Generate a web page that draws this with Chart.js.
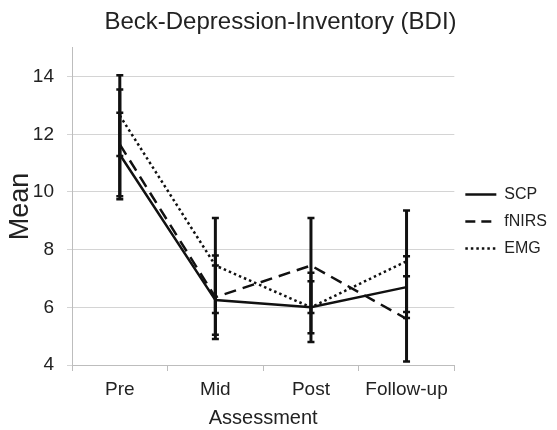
<!DOCTYPE html>
<html>
<head>
<meta charset="utf-8">
<title>Beck-Depression-Inventory (BDI)</title>
<script src="https://cdn.jsdelivr.net/npm/chart.js@4.4.1/dist/chart.umd.min.js"></script>
<style>
    html, body { margin: 0; padding: 0; background: #fff; }
    #wrap { width: 557px; height: 430px; }
</style>
</head>
<body>
<div id="wrap"><canvas id="bdiChart" width="557" height="430"></canvas></div>
<script>
// Data
const assessments = ["Pre", "Mid", "Post", "Follow-up"];
const yTicks = [4, 6, 8, 10, 12, 14];

const scpMean = [11.3, 6.25, 6.0, 6.7];
const scpErr = [1.45, 1.2, 0.9, 1.07];
const fnirsMean = [11.65, 6.35, 7.45, 5.6];
const fnirsErr = [1.9, 1.45, 1.65, 1.48];
const emgMean = [12.65, 7.45, 6.0, 7.6];
const emgErr = [1.4, 1.65, 1.2, 1.76];

const textColor = "#222";
Chart.defaults.font.family = "'Liberation Sans', Arial, sans-serif";
Chart.defaults.color = textColor;

// vertical error bars with small caps, drawn through the scales
const errorBars = {
    id: "errorBars",
    afterDatasetsDraw(chart) {
        const ctx = chart.ctx;
        const xs = chart.scales.x;
        const ys = chart.scales.y;
        ctx.save();
        ctx.strokeStyle = "#111";
        ctx.setLineDash([]);
        chart.data.datasets.forEach(function (ds) {
            ds.errors.forEach(function (e, i) {
                const px = xs.getPixelForValue(i);
                const top = ys.getPixelForValue(ds.data[i] + e);
                const bot = ys.getPixelForValue(ds.data[i] - e);
                ctx.lineWidth = 3;
                ctx.beginPath();
                ctx.moveTo(px, top);
                ctx.lineTo(px, bot);
                ctx.stroke();
                ctx.lineWidth = 2.5;
                ctx.beginPath();
                ctx.moveTo(px - 3.5, top);
                ctx.lineTo(px + 3.5, top);
                ctx.moveTo(px - 3.5, bot);
                ctx.lineTo(px + 3.5, bot);
                ctx.stroke();
            });
        });
        ctx.restore();
    }
};

const ctx = document.getElementById("bdiChart").getContext("2d");

new Chart(ctx, {
    type: "line",
    data: {
        labels: assessments,
        datasets: [
            {
                label: "SCP",
                data: scpMean,
                errors: scpErr,
                borderColor: "#111",
                borderWidth: 2.5,
                borderDash: [],
                legendDash: [],
                pointRadius: 0,
                fill: false,
            },
            {
                label: "fNIRS",
                data: fnirsMean,
                errors: fnirsErr,
                borderColor: "#111",
                borderWidth: 2.5,
                borderDash: [12, 7],
                legendDash: [10, 6],
                pointRadius: 0,
                fill: false,
            },
            {
                label: "EMG",
                data: emgMean,
                errors: emgErr,
                borderColor: "#111",
                borderWidth: 2.5,
                borderDash: [2.5, 3],
                legendDash: [2.5, 3],
                pointRadius: 0,
                fill: false,
            },
        ],
    },
    options: {
        responsive: false,
        animation: false,
        layout: { padding: { left: 4, right: 0, top: 0, bottom: 0 } },
        plugins: {
            title: {
                display: true,
                text: "Beck-Depression-Inventory (BDI)",
                color: textColor,
                font: { size: 24, weight: "normal" },
                padding: { top: 8, bottom: 11 },
            },
            legend: {
                display: true,
                position: "right",
                title: { display: true, text: "", font: { size: 10, lineHeight: 1 }, padding: { top: 3, bottom: 0 } },
                labels: {
                    usePointStyle: true,
                    pointStyle: "line",
                    pointStyleWidth: 31,
                    boxHeight: 2,
                    padding: 11,
                    color: textColor,
                    font: { size: 16 },
                    generateLabels: function (chart) {
                        return chart.data.datasets.map(function (ds, i) {
                            return {
                                text: ds.label,
                                strokeStyle: ds.borderColor,
                                fillStyle: ds.borderColor,
                                lineWidth: ds.borderWidth,
                                lineDash: ds.legendDash,
                                pointStyle: "line",
                                fontColor: textColor,
                                datasetIndex: i,
                            };
                        });
                    },
                },
            },
            tooltip: { enabled: false },
        },
        scales: {
            x: {
                offset: true,
                afterFit: function (scale) {
                    scale.height = 65;
                },
                grid: {
                    offset: true,
                    drawOnChartArea: false,
                    tickLength: 6,
                    color: "#bdbdbd",
                },
                border: { color: "#bdbdbd" },
                ticks: { color: textColor, font: { size: 19 }, padding: 7, maxRotation: 0 },
                title: {
                    display: true,
                    text: "Assessment",
                    color: textColor,
                    font: { size: 20 },
                    padding: { top: 0, bottom: 0 },
                },
            },
            y: {
                min: 4,
                max: 15,
                afterBuildTicks: function (scale) {
                    scale.ticks = yTicks.map(function (v) { return { value: v }; });
                },
                afterFit: function (scale) {
                    scale.width = 68;
                },
                grid: { color: "#d4d4d4", tickLength: 5 },
                border: { color: "#bdbdbd" },
                ticks: { color: textColor, font: { size: 19 }, padding: 13 },
                title: {
                    display: true,
                    text: "Mean",
                    color: textColor,
                    font: { size: 27 },
                    padding: 0,
                },
            },
        },
    },
    plugins: [errorBars],
});
</script>
</body>
</html>
